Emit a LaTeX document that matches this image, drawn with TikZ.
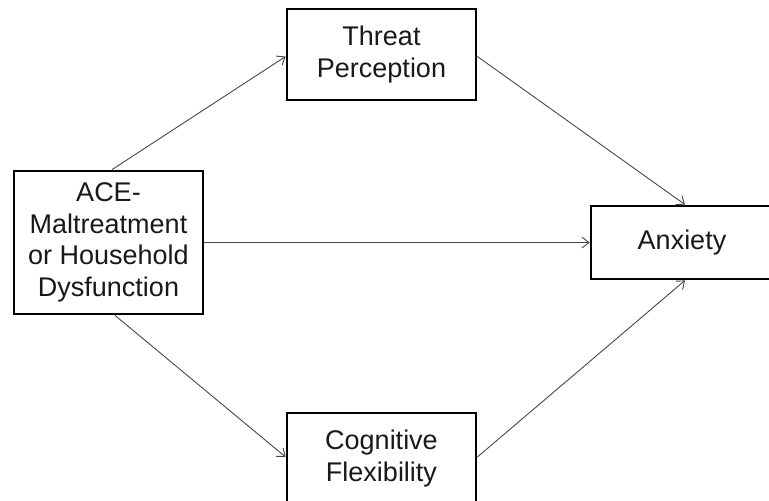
\documentclass[tikz,border=0pt]{standalone}
\usepackage{fontspec}
\setmainfont{Liberation Sans}
\usetikzlibrary{arrows.meta}
\tikzset{
  box/.style={draw=black, line width=2.8pt, fill=white, inner sep=0pt, align=center,
    font=\fontsize{27}{31.5}\selectfont, text=black!90},
  link/.style={draw=black!72, line width=0.9pt, -{Straight Barb[length=7pt,width=11pt,line width=0.9pt]}}
}
\begin{document}
\begin{tikzpicture}[x=1pt,y=-1pt]
\useasboundingbox (0,0) rectangle (769,501);
\node[box, minimum width=189pt, minimum height=91pt] (threat) at (381.5,54.5) {Threat\\Perception};
\node[box, minimum width=189pt, minimum height=143pt] (ace) at (108.5,242.5) {ACE-\\Maltreatment\\or Household\\Dysfunction};
\node[box, minimum width=182pt, minimum height=73pt] (anx) at (682,242.5) {Anxiety};
\node[box, minimum width=189pt, minimum height=91pt] (cog) at (381.5,458.5) {Cognitive\\Flexibility};
\draw[link] ([xshift=3.5pt]ace.north) -- ([yshift=-2pt]threat.west);
\draw[link] ([yshift=-2pt]threat.east) -- ([xshift=3pt]anx.north);
\draw[link] (ace.east) -- (anx.west);
\draw[link] ([xshift=6.5pt]ace.south) -- ([yshift=1.5pt]cog.west);
\draw[link] ([yshift=1.5pt]cog.east) -- ([xshift=3pt]anx.south);
\end{tikzpicture}
\end{document}
